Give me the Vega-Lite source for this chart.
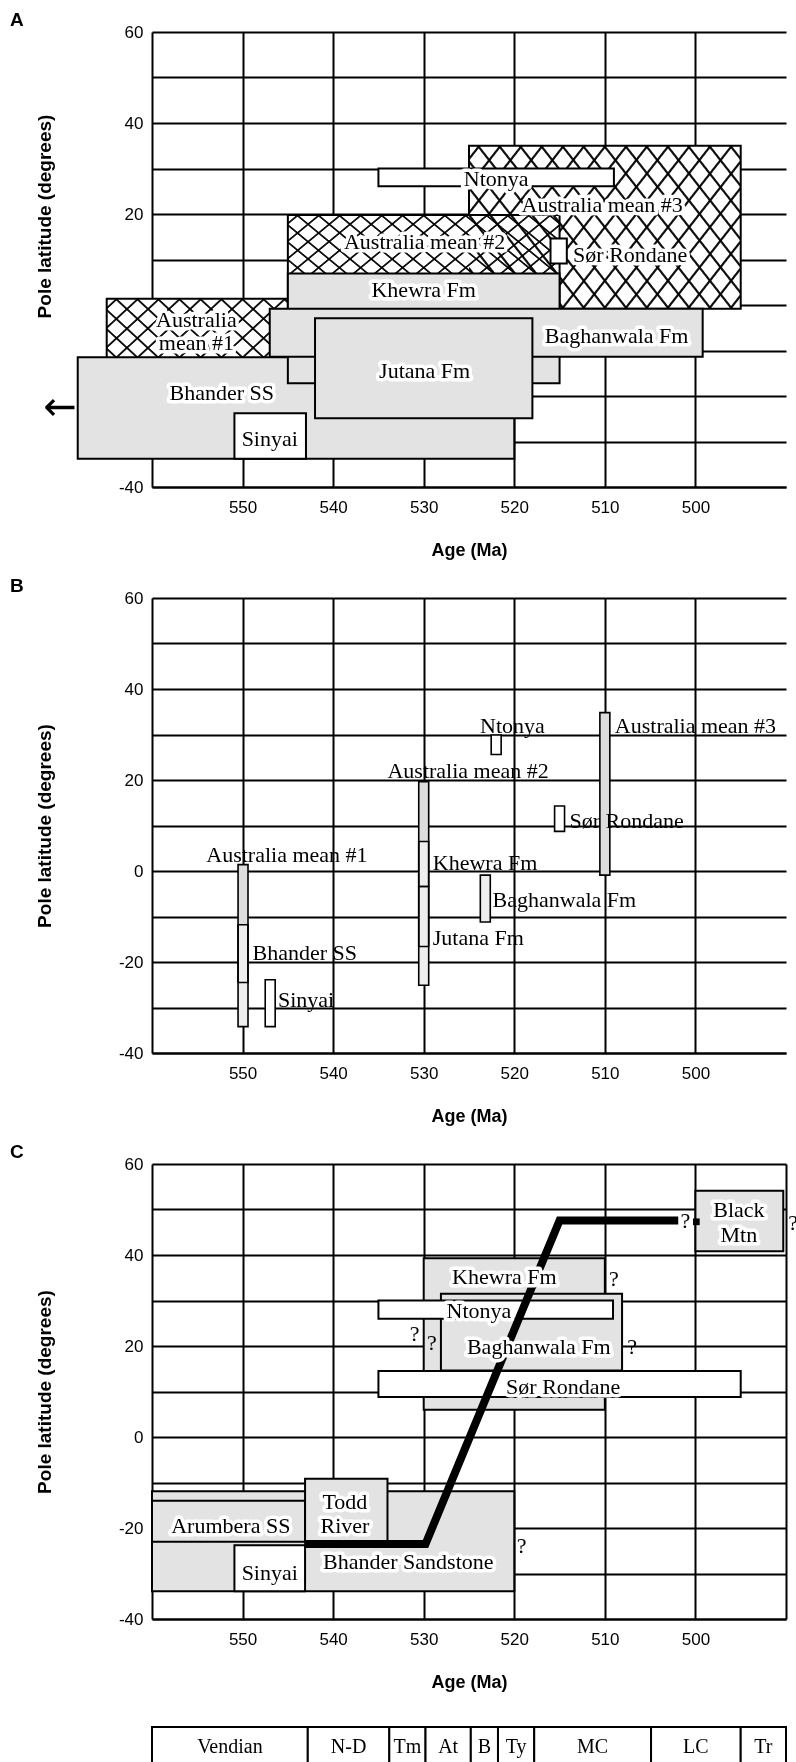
{
"$schema": "https://vega.github.io/schema/vega-lite/v6.json",
"background": "white",
"padding": {"left": 10, "top": 11, "right": 0, "bottom": 0},
"spacing": 18,
"resolve": {"scale": {"x": "independent", "y": "independent", "fill": "independent"}},
"config": {
  "view": {"stroke": null},
  "axis": {"grid": true, "gridColor": "black", "gridWidth": 2, "gridOpacity": 1, "domain": true, "domainColor": "black", "domainWidth": 2, "ticks": false, "tickSize": 0, "labelFont": "Liberation Sans", "labelFontSize": 17, "labelColor": "black", "labelOverlap": false, "titleFont": "Liberation Sans", "titleFontSize": 19, "titleFontWeight": "bold", "titleColor": "black"},
  "axisX": {"titleFontSize": 18}
},
"datasets": {
  "crossA": [
    {"name": "Australia mean #1", "a1": 565, "a2": 535, "l1": 1.4, "l2": -24.5},
    {"name": "Australia mean #3", "a1": 525, "a2": 495, "l1": 35, "l2": -0.8},
    {"name": "Australia mean #2", "a1": 545, "a2": 515, "l1": 19.8, "l2": -3.4}
  ],
  "boxesA": [
    {"name": "Ntonya", "pat": "white", "a1": 535, "a2": 509, "l1": 30, "l2": 26.1},
    {"name": "Sør Rondane", "pat": "white", "a1": 516, "a2": 514.2, "l1": 14.6, "l2": 9.1},
    {"name": "Bhander SS", "pat": "stip", "a1": 568.2, "a2": 520, "l1": -11.5, "l2": -33.8},
    {"name": "Khewra Fm", "pat": "stip", "a1": 545, "a2": 515, "l1": 6.9, "l2": -17.2},
    {"name": "Baghanwala Fm", "pat": "stip", "a1": 547, "a2": 499.2, "l1": -0.8, "l2": -11.4},
    {"name": "Jutana Fm", "pat": "stip", "a1": 542, "a2": 518, "l1": -2.9, "l2": -24.9},
    {"name": "Sinyai", "pat": "white", "a1": 550.9, "a2": 543, "l1": -23.8, "l2": -33.8}
  ],
  "arrowA": [{"t": "←", "a1": 568.2, "l1": -22.6}],
  "labelsA": [
    {"t": "Ntonya", "a1": 522.0, "l1": 27.8},
    {"t": "Australia mean #3", "a1": 510.3, "l1": 21.9},
    {"t": "Australia mean #2", "a1": 529.9, "l1": 13.8},
    {"t": "Sør Rondane", "a1": 507.2, "l1": 11.0},
    {"t": "Khewra Fm", "a1": 530.0, "l1": 3.2},
    {"t": "Australia", "a1": 555.1, "l1": -3.3},
    {"t": "mean #1", "a1": 555.1, "l1": -8.3},
    {"t": "Baghanwala Fm", "a1": 508.7, "l1": -6.9},
    {"t": "Jutana Fm", "a1": 529.9, "l1": -14.4},
    {"t": "Bhander SS", "a1": 552.3, "l1": -19.3},
    {"t": "Sinyai", "a1": 547.0, "l1": -29.4}
  ],
  "barsB": [
    {"name": "Australia mean #1", "pat": "cross", "a1": 550.5, "a2": 549.4, "l1": 1.4, "l2": -24.5},
    {"name": "Bhander SS", "pat": "stip", "a1": 550.5, "a2": 549.4, "l1": -11.8, "l2": -34.2},
    {"name": "Sinyai", "pat": "white", "a1": 547.5, "a2": 546.4, "l1": -23.9, "l2": -34.2},
    {"name": "Australia mean #2", "pat": "cross", "a1": 530.55, "a2": 529.45, "l1": 19.6, "l2": -3.4},
    {"name": "Khewra Fm", "pat": "stip", "a1": 530.55, "a2": 529.45, "l1": 6.5, "l2": -16.6},
    {"name": "Jutana Fm", "pat": "stip", "a1": 530.55, "a2": 529.45, "l1": -3.4, "l2": -25.1},
    {"name": "Baghanwala Fm", "pat": "stip", "a1": 523.75, "a2": 522.65, "l1": -0.9, "l2": -11.2},
    {"name": "Ntonya", "pat": "white", "a1": 522.55, "a2": 521.45, "l1": 29.9, "l2": 25.6},
    {"name": "Sør Rondane", "pat": "white", "a1": 515.55, "a2": 514.45, "l1": 14.3, "l2": 8.7},
    {"name": "Australia mean #3", "pat": "cross", "a1": 510.55, "a2": 509.45, "l1": 34.8, "l2": -0.9}
  ],
  "labelsB": [
    {"t": "Ntonya", "al": "center", "a1": 520.2, "l1": 31.9},
    {"t": "Australia mean #3", "al": "left", "a1": 508.9, "l1": 31.9},
    {"t": "Australia mean #2", "al": "center", "a1": 525.1, "l1": 22.0},
    {"t": "Sør Rondane", "al": "left", "a1": 513.9, "l1": 11.0},
    {"t": "Australia mean #1", "al": "center", "a1": 545.1, "l1": 3.5},
    {"t": "Khewra Fm", "al": "left", "a1": 529.0, "l1": 1.7},
    {"t": "Baghanwala Fm", "al": "left", "a1": 522.4, "l1": -6.4},
    {"t": "Jutana Fm", "al": "left", "a1": 529.0, "l1": -14.8},
    {"t": "Bhander SS", "al": "left", "a1": 548.9, "l1": -18.1},
    {"t": "Sinyai", "al": "left", "a1": 546.1, "l1": -28.4}
  ],
  "boxesC": [
    {"name": "Bhander Sandstone", "pat": "stip", "a1": 560, "a2": 520, "l1": -11.9, "l2": -33.9},
    {"name": "Arumbera SS", "pat": "stip", "a1": 560, "a2": 543.1, "l1": -14.0, "l2": -23.0},
    {"name": "Todd River", "pat": "stip", "a1": 543.1, "a2": 534.0, "l1": -9.2, "l2": -23.0},
    {"name": "Sinyai", "pat": "white", "a1": 550.9, "a2": 543.1, "l1": -23.8, "l2": -33.9},
    {"name": "Khewra Fm", "pat": "stip", "a1": 530, "a2": 510, "l1": 39.3, "l2": 6.0},
    {"name": "Baghanwala Fm", "pat": "stip", "a1": 528.1, "a2": 508.1, "l1": 31.5, "l2": 14.6},
    {"name": "Ntonya", "pat": "white", "a1": 535.0, "a2": 509.1, "l1": 30.0, "l2": 26.0},
    {"name": "Sør Rondane", "pat": "white", "a1": 535.0, "a2": 495.0, "l1": 14.5, "l2": 8.8},
    {"name": "Black Mtn", "pat": "stip", "a1": 500, "a2": 490.3, "l1": 54.1, "l2": 40.8}
  ],
  "pathC": [
    {"o": 1, "a1": 543.2, "l1": -23.5},
    {"o": 2, "a1": 529.8, "l1": -23.5},
    {"o": 3, "a1": 515.0, "l1": 47.6},
    {"o": 4, "a1": 501.9, "l1": 47.6}
  ],
  "squareC": [{"a1": 499.9, "l1": 47.3}],
  "labelsC": [
    {"t": "Black", "h": 1, "a1": 495.2, "l1": 50.0},
    {"t": "Mtn", "h": 1, "a1": 495.2, "l1": 44.4},
    {"t": "?", "h": 0, "a1": 489.2, "l1": 47.0},
    {"t": "?", "h": 0, "a1": 501.1, "l1": 47.4},
    {"t": "Khewra Fm", "h": 1, "a1": 521.1, "l1": 35.2},
    {"t": "?", "h": 0, "a1": 509.0, "l1": 34.8},
    {"t": "Ntonya", "h": 1, "a1": 523.9, "l1": 27.8},
    {"t": "?", "h": 0, "a1": 531.0, "l1": 22.6},
    {"t": "?", "h": 0, "a1": 529.1, "l1": 20.7},
    {"t": "Baghanwala Fm", "h": 1, "a1": 517.3, "l1": 19.7},
    {"t": "?", "h": 0, "a1": 507.0, "l1": 19.8},
    {"t": "Sør Rondane", "h": 1, "a1": 514.6, "l1": 10.9},
    {"t": "Arumbera SS", "h": 1, "a1": 551.3, "l1": -19.6},
    {"t": "Todd", "h": 1, "a1": 538.7, "l1": -14.3},
    {"t": "River", "h": 1, "a1": 538.7, "l1": -19.6},
    {"t": "Sinyai", "h": 1, "a1": 547.0, "l1": -29.8},
    {"t": "Bhander Sandstone", "h": 1, "a1": 531.7, "l1": -27.5},
    {"t": "?", "h": 0, "a1": 519.2, "l1": -24.0}
  ],
  "periods": [
    {"t": "Vendian", "a1": 560, "a2": 542.8, "mid": 551.4},
    {"t": "N-D", "a1": 542.8, "a2": 533.8, "mid": 538.3},
    {"t": "Tm", "a1": 533.8, "a2": 529.8, "mid": 531.8},
    {"t": "At", "a1": 529.8, "a2": 524.8, "mid": 527.3},
    {"t": "B", "a1": 524.8, "a2": 521.8, "mid": 523.3},
    {"t": "Ty", "a1": 521.8, "a2": 517.8, "mid": 519.8},
    {"t": "MC", "a1": 517.8, "a2": 504.9, "mid": 511.35},
    {"t": "LC", "a1": 504.9, "a2": 495.0, "mid": 499.95},
    {"t": "Tr", "a1": 495.0, "a2": 490.0, "mid": 492.5}
  ]
},
"vconcat": [
  {
    "title": {"text": "A", "anchor": "start", "frame": "group", "dx": -142, "dy": 9, "offset": 2, "font": "Liberation Sans", "fontSize": 19, "fontWeight": "bold", "color": "black"},
    "width": 634, "height": 455,
    "encoding": {
      "x": {"field": "a1", "type": "quantitative", "scale": {"domain": [560, 490], "nice": false, "zero": false}, "axis": {"title": "Age (Ma)", "values": [550, 540, 530, 520, 510, 500], "labelPadding": 12, "titlePadding": 26}},
      "y": {"field": "l1", "type": "quantitative", "scale": {"domain": [-40, 60], "nice": false, "zero": false}, "axis": {"title": "Pole latitude (degrees)", "values": [-40, -30, -20, -10, 0, 10, 20, 30, 40, 50, 60], "labelExpr": "datum.value % 20 == 0 ? '' + datum.value : ''", "labelPadding": 9, "titlePadding": 64, "titleY": 184}}
    },
    "layer": [
      {"data": {"name": "crossA"},
       "mark": {"type": "rect", "stroke": "black", "strokeWidth": 2,
         "fill": {"gradient": "linear", "x1": 0, "y1": 0, "x2": 1.204, "y2": 0.566, "stops": [{"offset":0,"color":"white"},
{"offset":0.021,"color":"white"},{"offset":0.024,"color":"#111"},{"offset":0.028,"color":"#111"},{"offset":0.031,"color":"white"},
{"offset":0.074,"color":"white"},{"offset":0.077,"color":"#111"},{"offset":0.081,"color":"#111"},{"offset":0.084,"color":"white"},
{"offset":0.127,"color":"white"},{"offset":0.130,"color":"#111"},{"offset":0.134,"color":"#111"},{"offset":0.137,"color":"white"},
{"offset":0.179,"color":"white"},{"offset":0.182,"color":"#111"},{"offset":0.186,"color":"#111"},{"offset":0.189,"color":"white"},
{"offset":0.232,"color":"white"},{"offset":0.235,"color":"#111"},{"offset":0.239,"color":"#111"},{"offset":0.242,"color":"white"},
{"offset":0.284,"color":"white"},{"offset":0.287,"color":"#111"},{"offset":0.291,"color":"#111"},{"offset":0.294,"color":"white"},
{"offset":0.337,"color":"white"},{"offset":0.340,"color":"#111"},{"offset":0.344,"color":"#111"},{"offset":0.347,"color":"white"},
{"offset":0.390,"color":"white"},{"offset":0.393,"color":"#111"},{"offset":0.397,"color":"#111"},{"offset":0.400,"color":"white"},
{"offset":0.442,"color":"white"},{"offset":0.445,"color":"#111"},{"offset":0.449,"color":"#111"},{"offset":0.452,"color":"white"},
{"offset":0.495,"color":"white"},{"offset":0.498,"color":"#111"},{"offset":0.502,"color":"#111"},{"offset":0.505,"color":"white"},
{"offset":0.548,"color":"white"},{"offset":0.551,"color":"#111"},{"offset":0.555,"color":"#111"},{"offset":0.558,"color":"white"},
{"offset":0.600,"color":"white"},{"offset":0.603,"color":"#111"},{"offset":0.607,"color":"#111"},{"offset":0.610,"color":"white"},
{"offset":0.653,"color":"white"},{"offset":0.656,"color":"#111"},{"offset":0.660,"color":"#111"},{"offset":0.663,"color":"white"},
{"offset":0.706,"color":"white"},{"offset":0.709,"color":"#111"},{"offset":0.713,"color":"#111"},{"offset":0.716,"color":"white"},
{"offset":0.758,"color":"white"},{"offset":0.761,"color":"#111"},{"offset":0.765,"color":"#111"},{"offset":0.768,"color":"white"},
{"offset":0.811,"color":"white"},{"offset":0.814,"color":"#111"},{"offset":0.818,"color":"#111"},{"offset":0.821,"color":"white"},
{"offset":0.863,"color":"white"},{"offset":0.866,"color":"#111"},{"offset":0.870,"color":"#111"},{"offset":0.873,"color":"white"},
{"offset":0.916,"color":"white"},{"offset":0.919,"color":"#111"},{"offset":0.923,"color":"#111"},{"offset":0.926,"color":"white"},
{"offset":0.969,"color":"white"},{"offset":0.972,"color":"#111"},{"offset":0.976,"color":"#111"},{"offset":0.979,"color":"white"},
{"offset":1,"color":"white"}]}},
       "encoding": {"x2": {"field": "a2"}, "y2": {"field": "l2"}}},
      {"data": {"name": "crossA"},
       "mark": {"type": "rect", "strokeWidth": 0, "blend": "multiply",
         "fill": {"gradient": "linear", "x1": 0, "y1": 1, "x2": 1.204, "y2": 0.434, "stops": [{"offset":0,"color":"white"},
{"offset":0.021,"color":"white"},{"offset":0.024,"color":"#111"},{"offset":0.028,"color":"#111"},{"offset":0.031,"color":"white"},
{"offset":0.074,"color":"white"},{"offset":0.077,"color":"#111"},{"offset":0.081,"color":"#111"},{"offset":0.084,"color":"white"},
{"offset":0.127,"color":"white"},{"offset":0.130,"color":"#111"},{"offset":0.134,"color":"#111"},{"offset":0.137,"color":"white"},
{"offset":0.179,"color":"white"},{"offset":0.182,"color":"#111"},{"offset":0.186,"color":"#111"},{"offset":0.189,"color":"white"},
{"offset":0.232,"color":"white"},{"offset":0.235,"color":"#111"},{"offset":0.239,"color":"#111"},{"offset":0.242,"color":"white"},
{"offset":0.284,"color":"white"},{"offset":0.287,"color":"#111"},{"offset":0.291,"color":"#111"},{"offset":0.294,"color":"white"},
{"offset":0.337,"color":"white"},{"offset":0.340,"color":"#111"},{"offset":0.344,"color":"#111"},{"offset":0.347,"color":"white"},
{"offset":0.390,"color":"white"},{"offset":0.393,"color":"#111"},{"offset":0.397,"color":"#111"},{"offset":0.400,"color":"white"},
{"offset":0.442,"color":"white"},{"offset":0.445,"color":"#111"},{"offset":0.449,"color":"#111"},{"offset":0.452,"color":"white"},
{"offset":0.495,"color":"white"},{"offset":0.498,"color":"#111"},{"offset":0.502,"color":"#111"},{"offset":0.505,"color":"white"},
{"offset":0.548,"color":"white"},{"offset":0.551,"color":"#111"},{"offset":0.555,"color":"#111"},{"offset":0.558,"color":"white"},
{"offset":0.600,"color":"white"},{"offset":0.603,"color":"#111"},{"offset":0.607,"color":"#111"},{"offset":0.610,"color":"white"},
{"offset":0.653,"color":"white"},{"offset":0.656,"color":"#111"},{"offset":0.660,"color":"#111"},{"offset":0.663,"color":"white"},
{"offset":0.706,"color":"white"},{"offset":0.709,"color":"#111"},{"offset":0.713,"color":"#111"},{"offset":0.716,"color":"white"},
{"offset":0.758,"color":"white"},{"offset":0.761,"color":"#111"},{"offset":0.765,"color":"#111"},{"offset":0.768,"color":"white"},
{"offset":0.811,"color":"white"},{"offset":0.814,"color":"#111"},{"offset":0.818,"color":"#111"},{"offset":0.821,"color":"white"},
{"offset":0.863,"color":"white"},{"offset":0.866,"color":"#111"},{"offset":0.870,"color":"#111"},{"offset":0.873,"color":"white"},
{"offset":0.916,"color":"white"},{"offset":0.919,"color":"#111"},{"offset":0.923,"color":"#111"},{"offset":0.926,"color":"white"},
{"offset":0.969,"color":"white"},{"offset":0.972,"color":"#111"},{"offset":0.976,"color":"#111"},{"offset":0.979,"color":"white"},
{"offset":1,"color":"white"}]}},
       "encoding": {"x2": {"field": "a2"}, "y2": {"field": "l2"}}},
      {"data": {"name": "boxesA"},
       "mark": {"type": "rect", "stroke": "black", "strokeWidth": 2},
       "encoding": {"x2": {"field": "a2"}, "y2": {"field": "l2"},
         "fill": {"field": "pat", "type": "nominal", "scale": {"domain": ["stip", "cross", "white"], "range": ["#e3e3e3", "#d0d0d0", "#ffffff"]}, "legend": null}}},
      {"data": {"name": "arrowA"},
       "mark": {"type": "text", "font": "DejaVu Sans", "fontSize": 40, "fill": "black", "align": "right", "baseline": "middle", "dx": -1},
       "encoding": {"text": {"field": "t"}}},
      {"data": {"name": "labelsA"},
       "mark": {"type": "text", "font": "Liberation Serif", "fontSize": 22, "fill": "white", "stroke": "white", "strokeWidth": 7, "strokeJoin": "round", "align": "center", "baseline": "middle"},
       "encoding": {"text": {"field": "t"}}},
      {"data": {"name": "labelsA"},
       "mark": {"type": "text", "font": "Liberation Serif", "fontSize": 22, "fill": "black", "align": "center", "baseline": "middle"},
       "encoding": {"text": {"field": "t"}}}
    ]
  },
  {
    "title": {"text": "B", "anchor": "start", "frame": "group", "dx": -142, "dy": 9, "offset": 2, "font": "Liberation Sans", "fontSize": 19, "fontWeight": "bold", "color": "black"},
    "width": 634, "height": 455,
    "encoding": {
      "x": {"field": "a1", "type": "quantitative", "scale": {"domain": [560, 490], "nice": false, "zero": false}, "axis": {"title": "Age (Ma)", "values": [550, 540, 530, 520, 510, 500], "labelPadding": 12, "titlePadding": 26}},
      "y": {"field": "l1", "type": "quantitative", "scale": {"domain": [-40, 60], "nice": false, "zero": false}, "axis": {"title": "Pole latitude (degrees)", "values": [-40, -30, -20, -10, 0, 10, 20, 30, 40, 50, 60], "labelExpr": "datum.value % 20 == 0 ? '' + datum.value : ''", "labelPadding": 9, "titlePadding": 64}}
    },
    "layer": [
      {"data": {"name": "barsB"},
       "mark": {"type": "rect", "strokeWidth": 0},
       "encoding": {"x2": {"field": "a2"}, "y2": {"field": "l2"},
         "fill": {"field": "pat", "type": "nominal", "scale": {"domain": ["stip", "cross", "white"], "range": ["#eeeeee", "#dddddd", "#ffffff"]}, "legend": null}}},
      {"data": {"name": "barsB"},
       "mark": {"type": "rect", "filled": false, "stroke": "black", "strokeWidth": 1.6},
       "encoding": {"x2": {"field": "a2"}, "y2": {"field": "l2"}}},
      {"data": {"name": "labelsB"},
       "transform": [{"filter": "datum.al == 'center'"}],
       "mark": {"type": "text", "font": "Liberation Serif", "fontSize": 22, "fill": "black", "align": "center", "baseline": "middle"},
       "encoding": {"text": {"field": "t"}}},
      {"data": {"name": "labelsB"},
       "transform": [{"filter": "datum.al == 'left'"}],
       "mark": {"type": "text", "font": "Liberation Serif", "fontSize": 22, "fill": "black", "align": "left", "baseline": "middle"},
       "encoding": {"text": {"field": "t"}}}
    ]
  },
  {
    "title": {"text": "C", "anchor": "start", "frame": "group", "dx": -142, "dy": 9, "offset": 2, "font": "Liberation Sans", "fontSize": 19, "fontWeight": "bold", "color": "black"},
    "width": 634, "height": 455,
    "encoding": {
      "x": {"field": "a1", "type": "quantitative", "scale": {"domain": [560, 490], "nice": false, "zero": false}, "axis": {"title": "Age (Ma)", "values": [550, 540, 530, 520, 510, 500, 490], "labelExpr": "datum.value == 490 ? '' : datum.label", "labelPadding": 12, "titlePadding": 26}},
      "y": {"field": "l1", "type": "quantitative", "scale": {"domain": [-40, 60], "nice": false, "zero": false}, "axis": {"title": "Pole latitude (degrees)", "values": [-40, -30, -20, -10, 0, 10, 20, 30, 40, 50, 60], "labelExpr": "datum.value % 20 == 0 ? '' + datum.value : ''", "labelPadding": 9, "titlePadding": 64}}
    },
    "layer": [
      {"data": {"name": "boxesC"},
       "mark": {"type": "rect", "stroke": "black", "strokeWidth": 2},
       "encoding": {"x2": {"field": "a2"}, "y2": {"field": "l2"},
         "fill": {"field": "pat", "type": "nominal", "scale": {"domain": ["stip", "cross", "white"], "range": ["#e3e3e3", "#d0d0d0", "#ffffff"]}, "legend": null}}},
      {"data": {"name": "pathC"},
       "mark": {"type": "line", "color": "black", "strokeWidth": 8, "strokeCap": "butt", "strokeJoin": "miter"},
       "encoding": {"order": {"field": "o", "type": "quantitative"}}},
      {"data": {"name": "squareC"},
       "mark": {"type": "point", "shape": "square", "filled": true, "color": "black", "size": 45, "opacity": 1},
       "encoding": {}},
      {"data": {"name": "labelsC"},
       "transform": [{"filter": "datum.h == 1"}],
       "mark": {"type": "text", "font": "Liberation Serif", "fontSize": 22, "fill": "white", "stroke": "white", "strokeWidth": 7, "strokeJoin": "round", "align": "center", "baseline": "middle"},
       "encoding": {"text": {"field": "t"}}},
      {"data": {"name": "labelsC"},
       "mark": {"type": "text", "font": "Liberation Serif", "fontSize": 22, "fill": "black", "align": "center", "baseline": "middle"},
       "encoding": {"text": {"field": "t"}}}
    ]
  },
  {
    "width": 634, "height": 58,
    "layer": [
      {"data": {"name": "periods"},
       "mark": {"type": "rect", "fill": "white", "stroke": "black", "strokeWidth": 2},
       "encoding": {
         "x": {"field": "a1", "type": "quantitative", "scale": {"domain": [560, 490], "nice": false, "zero": false}, "axis": null},
         "x2": {"field": "a2"},
         "y": {"datum": 0, "type": "quantitative", "scale": {"domain": [0, 1.45], "nice": false, "zero": false}, "axis": null},
         "y2": {"datum": 1}}},
      {"data": {"name": "periods"},
       "mark": {"type": "text", "font": "Liberation Serif", "fontSize": 20, "fill": "black", "align": "center", "baseline": "middle"},
       "encoding": {
         "x": {"field": "mid", "type": "quantitative", "axis": null},
         "y": {"datum": 0.5, "type": "quantitative", "axis": null},
         "text": {"field": "t"}}}
    ]
  }
]
}
